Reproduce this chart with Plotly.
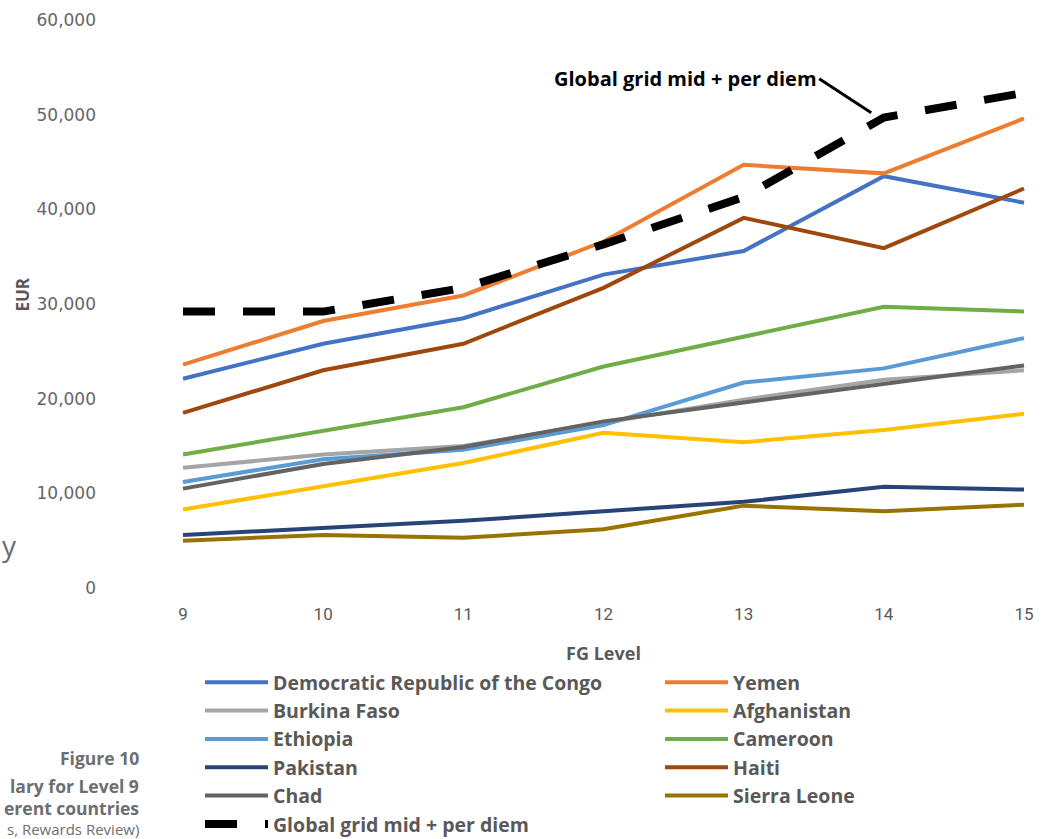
import plotly.graph_objects as go

# FG levels on the x axis
levels = [9, 10, 11, 12, 13, 14, 15]

# Salary (EUR) per FG level, by duty-station country
drc = [22100, 25800, 28500, 33100, 35600, 43500, 40700]
yemen = [23600, 28200, 30900, 36600, 44700, 43800, 49600]
burkina_faso = [12700, 14100, 15000, 17500, 19900, 22000, 23000]
afghanistan = [8300, 10700, 13200, 16400, 15400, 16700, 18400]
ethiopia = [11200, 13600, 14600, 17200, 21700, 23200, 26400]
cameroon = [14100, 16600, 19100, 23400, 26500, 29700, 29200]
pakistan = [5600, 6300, 7100, 8100, 9100, 10700, 10400]
haiti = [18500, 23000, 25800, 31700, 39100, 35900, 42200]
chad = [10500, 13100, 14900, 17600, 19600, 21600, 23500]
sierra_leone = [5000, 5600, 5300, 6200, 8700, 8100, 8800]
global_grid = [29200, 29200, 31700, 36300, 41300, 49700, 52300]

# (name, values, colour, legend column)
series = [
    ("Democratic Republic of the Congo", drc, "#4472C4", "legend"),
    ("Yemen", yemen, "#ED7D31", "legend2"),
    ("Burkina Faso", burkina_faso, "#A5A5A5", "legend"),
    ("Afghanistan", afghanistan, "#FFC000", "legend2"),
    ("Ethiopia", ethiopia, "#5B9BD5", "legend"),
    ("Cameroon", cameroon, "#70AD47", "legend2"),
    ("Pakistan", pakistan, "#264478", "legend"),
    ("Haiti", haiti, "#9E480E", "legend2"),
    ("Chad", chad, "#636363", "legend"),
    ("Sierra Leone", sierra_leone, "#997300", "legend2"),
]

y_ticks = [0, 10000, 20000, 30000, 40000, 50000, 60000]

W, H = 1051, 839
ML, MR, MT, MB = 176, 20, 20, 251
grey = "#595959"
bold_font = "Open Sans, sans-serif"

fig = go.Figure()
for name, values, color, leg in series:
    fig.add_trace(go.Scatter(
        x=levels, y=values, name=name, mode="lines",
        legend=leg,
        line=dict(color=color, width=4),
    ))

fig.add_trace(go.Scatter(
    x=levels, y=global_grid, name="Global grid mid + per diem", mode="lines",
    legend="legend",
    line=dict(color="black", width=8, dash="32px,28px"),
))

legend_style = dict(
    orientation="v",
    xref="container", yref="container",
    xanchor="left", yanchor="top",
    traceorder="normal",
    itemwidth=63,
    bgcolor="rgba(0,0,0,0)",
    font=dict(family=bold_font, size=19.5, color=grey, weight="bold"),
)

fig.update_layout(
    width=W, height=H,
    margin=dict(l=ML, r=MR, t=MT, b=MB, autoexpand=False),
    paper_bgcolor="white", plot_bgcolor="white",
    showlegend=True,
    legend=dict(x=200 / W, y=1 - 663 / H, **legend_style),
    legend2=dict(x=660 / W, y=1 - 663 / H, **legend_style),
    xaxis=dict(
        range=[8.95, 15.05],
        tickvals=levels,
        showgrid=False, zeroline=False, showline=False,
        ticks="",
        ticklabelstandoff=14,
        tickfont=dict(family="Roboto, sans-serif", size=17, color=grey),
        title=dict(text="FG Level", standoff=24,
                   font=dict(family=bold_font, size=18, color=grey, weight="bold")),
    ),
    yaxis=dict(
        range=[0, 60000],
        tickvals=y_ticks,
        tickformat=",",
        showgrid=False, zeroline=False, showline=False,
        ticks="",
        ticklabelstandoff=79,
        tickfont=dict(family="DejaVu Sans, sans-serif", size=17, color="#666666"),
    ),
)


# Pixel positions converted to paper units
def px_x(x):
    return (x - ML) / (W - ML - MR)


def px_y(y):
    return (H - y - MB) / (H - MT - MB)


# Y-axis title
fig.add_annotation(
    x=px_x(21.5), y=px_y(295), xref="paper", yref="paper", text="EUR",
    showarrow=False, textangle=-90, xanchor="center", yanchor="middle",
    font=dict(family=bold_font, size=17, color=grey, weight="bold"),
)

# Callout for the global grid line
fig.add_annotation(
    x=13.91, y=50200, xref="x", yref="y",
    text="Global grid mid + per diem",
    showarrow=True, arrowhead=0, arrowwidth=3, arrowcolor="black",
    ax=-52, ay=-34, xanchor="right", yanchor="middle",
    font=dict(family=bold_font, size=20, color="black", weight="bold"),
)

# Figure caption in the left margin
caption_font = dict(family=bold_font, size=17.5, color="#6d6e71", weight="bold")
for text, ypx in [("Figure 10", 758), ("lary for Level 9", 786), ("erent countries", 808)]:
    fig.add_annotation(
        x=px_x(141), y=px_y(ypx), xref="paper", yref="paper", text=text,
        showarrow=False, xanchor="right", yanchor="middle", font=caption_font,
    )
fig.add_annotation(
    x=px_x(141), y=px_y(829), xref="paper", yref="paper", text="s, Rewards Review)",
    showarrow=False, xanchor="right", yanchor="middle",
    font=dict(family=bold_font, size=15, color="#6d6e71"),
)
fig.add_annotation(
    x=px_x(0), y=px_y(545), xref="paper", yref="paper", text="y", showarrow=False,
    xanchor="left", yanchor="middle",
    font=dict(family=bold_font, size=28, color="#6d6e71"),
)

fig.write_html("out.html")
